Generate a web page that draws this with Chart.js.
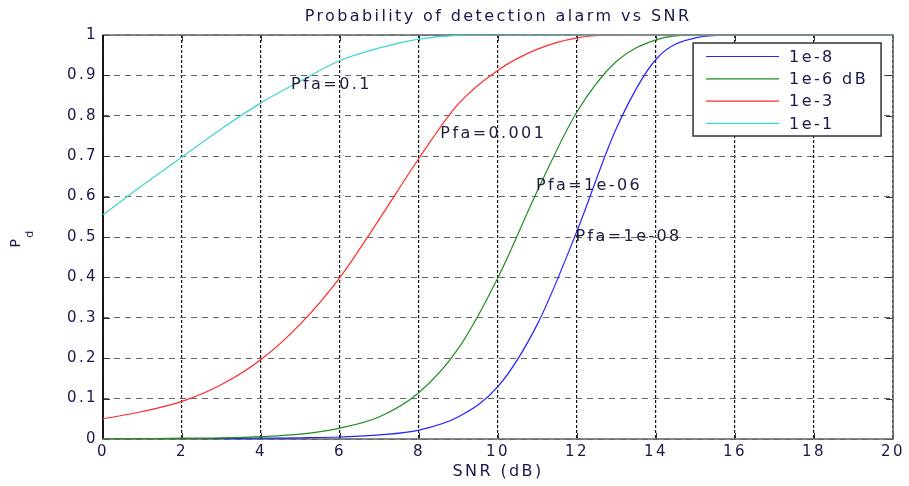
<!DOCTYPE html>
<html>
<head>
<meta charset="utf-8">
<script src="https://cdn.jsdelivr.net/npm/chart.js@4.4.1/dist/chart.umd.min.js"></script>
<style>
  html, body { margin: 0; padding: 0; background: #fff; }
</style>
</head>
<body>
<canvas id="chart" width="909" height="486"></canvas>
<script>
// values
const snr = [0, 1, 2, 3, 4, 5, 6, 7, 8, 9, 10, 11, 12, 13, 14, 15, 16, 17, 18, 19, 20];
const pd1e8 = [0, 0, 0, 0.001, 0.002, 0.003, 0.005, 0.01, 0.022, 0.055, 0.13, 0.285, 0.515, 0.77, 0.94, 0.993, 1, 1, 1, 1, 1];
const pd1e6 = [0.001, 0.001, 0.002, 0.003, 0.006, 0.012, 0.027, 0.055, 0.115, 0.225, 0.40, 0.615, 0.81, 0.935, 0.988, 1, 1, 1, 1, 1, 1];
const pd1e3 = [0.05, 0.068, 0.093, 0.135, 0.197, 0.285, 0.40, 0.545, 0.695, 0.83, 0.913, 0.965, 0.993, 1, 1, 1, 1, 1, 1, 1, 1];
const pd1e1 = [0.555, 0.628, 0.698, 0.768, 0.832, 0.886, 0.937, 0.968, 0.99, 0.999, 1, 1, 1, 1, 1, 1, 1, 1, 1, 1, 1];

const seriesLabels = ['1e-8', '1e-6 dB', '1e-3', '1e-1'];
const seriesColors = ['#2424ff', '#1f8f1f', '#ff2b2b', '#3fd3d3'];

const xTickLabels = ['0', '2', '4', '6', '8', '10', '12', '14', '16', '18', '20'];
const yTickLabels = ['0', '0.1', '0.2', '0.3', '0.4', '0.5', '0.6', '0.7', '0.8', '0.9', '1'];

// in-plot text labels, in data units (left edge, vertical middle)
const noteTexts = ['Pfa=0.1', 'Pfa=0.001', 'Pfa=1e-06', 'Pfa=1e-08'];
const noteX = [4.76, 8.54, 10.96, 11.96];
const noteY = [0.876, 0.755, 0.626, 0.50];

const FONT = "'DejaVu Sans', Arial, sans-serif";
const TEXT = '#18184a';
const SPACING = '2.4px';

function toPoints(ys) {
    return snr.map((x, i) => ({ x: x, y: ys[i] }));
}

const spacingPlugin = {
    id: 'spacing',
    beforeUpdate(chart) { chart.ctx.letterSpacing = SPACING; },
    beforeDraw(chart) { chart.ctx.letterSpacing = SPACING; }
};

function line(ctx, x1, y1, x2, y2) {
    ctx.beginPath();
    ctx.moveTo(x1, y1);
    ctx.lineTo(x2, y2);
    ctx.stroke();
}

const overlay = {
    id: 'overlay',
    beforeDatasetsDraw(chart) {
        const { ctx, chartArea: a, scales: { x, y } } = chart;
        ctx.save();
        // inward ticks like matlab
        ctx.strokeStyle = '#333';
        ctx.lineWidth = 1;
        x.ticks.forEach(t => {
            const px = Math.round(x.getPixelForValue(t.value)) + 0.5;
            line(ctx, px, a.bottom, px, a.bottom - 6);
            line(ctx, px, a.top, px, a.top + 6);
        });
        y.ticks.forEach(t => {
            const py = Math.round(y.getPixelForValue(t.value)) + 0.5;
            line(ctx, a.left, py, a.left + 7, py);
            line(ctx, a.right, py, a.right - 7, py);
        });
        // axes box
        ctx.strokeStyle = '#6a6a6a';
        ctx.lineWidth = 1.6;
        ctx.strokeRect(a.left, a.top, a.right - a.left, a.bottom - a.top);
        ctx.strokeStyle = '#000';
        line(ctx, a.left, a.top, a.left, a.bottom);
        ctx.restore();
    },
    afterDraw(chart) {
        const { ctx, chartArea: a, scales: { x, y } } = chart;
        ctx.save();
        ctx.letterSpacing = SPACING;
        ctx.fillStyle = TEXT;

        // title
        ctx.font = '16px ' + FONT;
        ctx.textAlign = 'center';
        ctx.textBaseline = 'middle';
        ctx.fillText('Probability of detection alarm vs SNR', (a.left + a.right) / 2, 17);

        // y label P_d
        ctx.save();
        ctx.translate(16, 242);
        ctx.rotate(-Math.PI / 2);
        ctx.font = '14px ' + FONT;
        ctx.fillText('P', 0, 0);
        ctx.restore();
        ctx.save();
        ctx.translate(30, 233);
        ctx.rotate(-Math.PI / 2);
        ctx.font = '11px ' + FONT;
        ctx.fillText('d', 0, 0);
        ctx.restore();

        // notes
        ctx.font = '16px ' + FONT;
        ctx.textAlign = 'left';
        ctx.fillStyle = '#202040';
        noteTexts.forEach((txt, i) => {
            ctx.fillText(txt, x.getPixelForValue(noteX[i]), y.getPixelForValue(noteY[i]));
        });

        // legend box inside top right
        const bw = 188, bh = 93;
        const bx = a.right - 12 - bw, by = a.top + 8;
        ctx.fillStyle = '#fff';
        ctx.fillRect(bx, by, bw, bh);
        ctx.strokeStyle = '#333';
        ctx.lineWidth = 1.5;
        ctx.strokeRect(bx, by, bw, bh);
        chart.data.datasets.forEach((ds, i) => {
            const ly = by + 13.5 + i * 22.3;
            ctx.strokeStyle = ds.borderColor;
            ctx.lineWidth = 1.2;
            line(ctx, bx + 13, ly, bx + 86, ly);
            ctx.fillStyle = TEXT;
            ctx.fillText(ds.label, bx + 96, ly + 1);
        });
        ctx.restore();
    }
};

const datasets = [pd1e8, pd1e6, pd1e3, pd1e1].map((ys, i) => ({
    label: seriesLabels[i],
    data: toPoints(ys),
    borderColor: seriesColors[i],
    backgroundColor: seriesColors[i],
    borderWidth: 1.2,
    pointRadius: 0,
    fill: false,
    cubicInterpolationMode: 'monotone',
    order: 4 - i
}));

new Chart(document.getElementById('chart').getContext('2d'), {
    type: 'line',
    data: { datasets: datasets },
    options: {
        responsive: false,
        devicePixelRatio: 1,
        animation: false,
        layout: { padding: { top: 35, right: 12, bottom: 0, left: 0 } },
        plugins: {
            legend: { display: false },
            title: { display: false },
            tooltip: { enabled: false }
        },
        scales: {
            x: {
                type: 'linear',
                min: 0,
                max: 20,
                afterFit(scale) { scale.height = 47; },
                ticks: {
                    stepSize: 2,
                    padding: 4,
                    color: TEXT,
                    font: { family: FONT, size: 15 },
                    maxRotation: 0,
                    callback: (v, i) => xTickLabels[i]
                },
                grid: { color: '#111', lineWidth: 1.2, drawTicks: false },
                border: { display: false, dash: [3, 2] },
                title: {
                    display: true,
                    text: 'SNR (dB)',
                    color: TEXT,
                    font: { family: FONT, size: 16 },
                    padding: { top: 0, bottom: 5 }
                }
            },
            y: {
                min: 0,
                max: 1,
                afterFit(scale) { scale.width = 103; },
                ticks: {
                    stepSize: 0.1,
                    padding: 5,
                    color: TEXT,
                    font: { family: FONT, size: 15 },
                    callback: (v, i) => yTickLabels[i]
                },
                grid: { color: '#666', lineWidth: 1, drawTicks: false },
                border: { display: false, dash: [6, 5] }
            }
        }
    },
    plugins: [spacingPlugin, overlay]
});
</script>
</body>
</html>
